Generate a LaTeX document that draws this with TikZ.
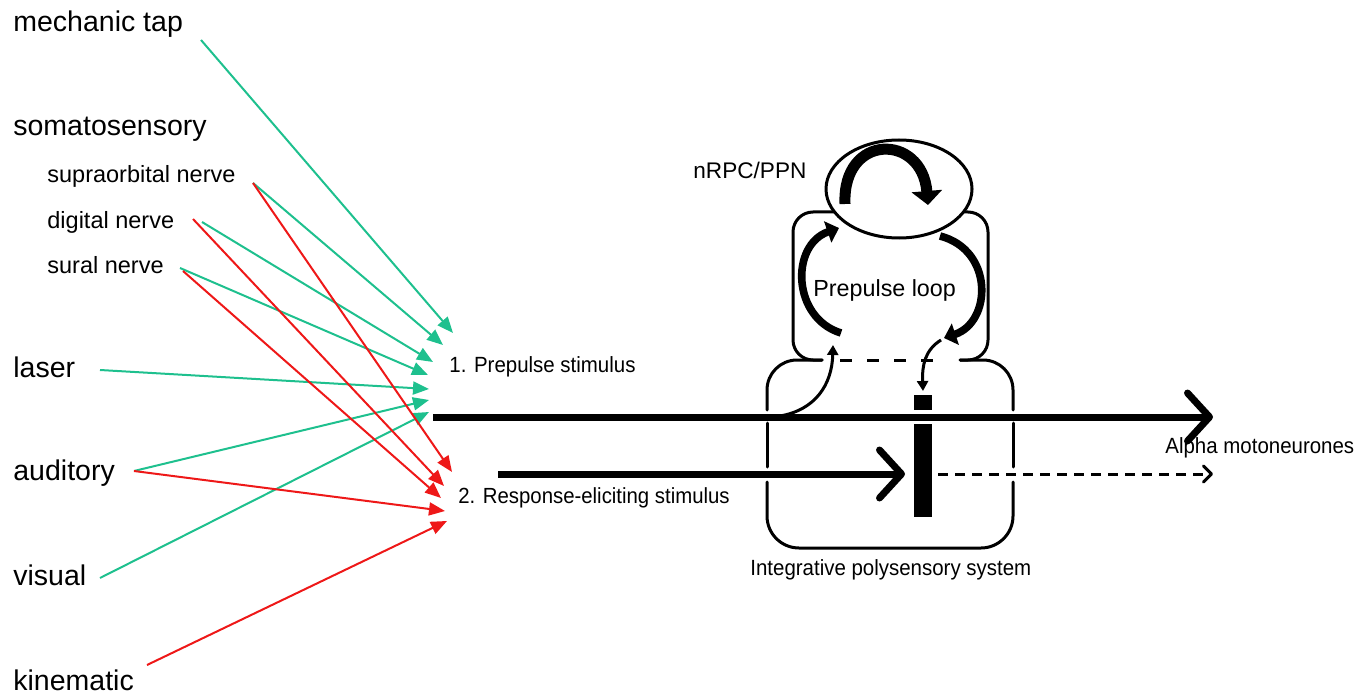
\documentclass[tikz,border=0pt]{standalone}
\usepackage{fontspec}
\setmainfont{Liberation Sans}
\newfontfamily\narrowsf[FakeStretch=0.93]{Liberation Sans}
\usetikzlibrary{arrows.meta,shapes.geometric}
\definecolor{sgreen}{RGB}{30,192,142}
\definecolor{sred}{RGB}{238,24,24}

\tikzset{
  lab/.style={anchor=base west, inner sep=0pt, font=\fontsize{14.25}{16}\selectfont},
  sublab/.style={anchor=base west, inner sep=0pt, font=\fontsize{11.75}{14}\selectfont},
  narrowlab/.style={anchor=base west, inner sep=0pt, font=\narrowsf\fontsize{11}{13}\selectfont},
  plainlab/.style={anchor=base west, inner sep=0pt, font=\fontsize{11.5}{13}\selectfont},
  gin/.style={draw=sgreen, line width=1pt, -{Triangle[length=8pt,width=6.5pt]}},
  rin/.style={draw=sred, line width=1pt, -{Triangle[length=8pt,width=6.5pt]}},
  trunk/.style={line width=3.5pt, -{Straight Barb[length=11pt,width=24pt,round]}},
  wall/.style={line width=1.5pt, line cap=round},
  loopbend/.style={line width=3.8pt, -{Triangle[length=6pt,width=11pt]}},
  thinbend/.style={line width=1.5pt, -{Triangle[length=5pt,width=5.5pt]}}
}

\begin{document}
\begin{tikzpicture}[x=0.5pt,y=-0.5pt]
\useasboundingbox (0,0) rectangle (1369,695);

% ---- stimulus sources ----
\node[lab] (mech) at (13,32) {mechanic tap};
\node[lab] (soma) at (13,136) {somatosensory};
\node[sublab] (supra) at (47,183) {supraorbital nerve};
\node[sublab] (digit) at (47,228) {digital nerve};
\node[sublab] (sural) at (47,273) {sural nerve};
\node[lab] (laser) at (13,377) {laser};
\node[lab] (audi) at (13,480) {auditory};
\node[lab] (visu) at (13,585) {visual};
\node[lab] (kine) at (13,690) {kinematic};

\coordinate (s-mech) at (201,40);
\coordinate (s-supra) at (253,183);
\coordinate (s-digG) at (202,222);
\coordinate (s-digR) at (193,219);
\coordinate (s-suralG) at (180,268);
\coordinate (s-suralR) at (183,271);
\coordinate (s-laser) at (100,370);
\coordinate (s-aud) at (134,471);
\coordinate (s-vis) at (100,578);
\coordinate (s-kin) at (147,665);

% ---- convergence points ----
\coordinate (g1) at (453,333);
\coordinate (g2) at (443,345);
\coordinate (g3) at (433,362);
\coordinate (g4) at (428,375);
\coordinate (g5) at (429,389);
\coordinate (g6) at (429,400);
\coordinate (g7) at (429,412);
\coordinate (q1) at (452,472);
\coordinate (q2) at (444,486);
\coordinate (q3) at (441,498);
\coordinate (q4) at (445,511);
\coordinate (q5) at (447,521);

% prepulse inputs
\draw[gin] (s-mech) -- (g1);
\draw[gin] (s-supra) -- (g2);
\draw[gin] (s-digG) -- (g3);
\draw[gin] (s-suralG) -- (g4);
\draw[gin] (s-laser) -- (g5);
\draw[gin] (s-aud) -- (g6);
\draw[gin] (s-vis) -- (g7);
% response-eliciting inputs
\draw[rin] (s-supra) -- (q1);
\draw[rin] (s-digR) -- (q2);
\draw[rin] (s-suralR) -- (q3);
\draw[rin] (s-aud) -- (q4);
\draw[rin] (s-kin) -- (q5);

\node[narrowlab] (pp) at (449,372) {1. Prepulse stimulus};
\node[anchor=base west, inner sep=0pt, font=\narrowsf\fontsize{10.95}{13}\selectfont] (re) at (458,503) {2. Response-eliciting stimulus};

% ---- integrative polysensory system (lower box, gaps where pathways cross) ----
\draw[wall, rounded corners=15pt] (822,360) -- (767,360) -- (767,410);
\draw[wall] (767,423) -- (767,467);
\draw[wall, rounded corners=16pt] (767,482) -- (767,548) -- (1013,548) -- (1013,482);
\draw[wall] (1013,467) -- (1013,423);
\draw[wall, rounded corners=15pt] (1013,410) -- (1013,360) -- (960,360);
\draw[wall, dash pattern=on 6pt off 7.5pt, line cap=butt] (840,360) -- (948,360);

% ---- prepulse loop (upper box) ----
\draw[wall, rounded corners=10pt] (840,212) -- (793,212) -- (793,360) -- (822,360);
\draw[wall, rounded corners=10pt] (958,212) -- (988,212) -- (988,360) -- (960,360);

\node[draw, line width=1.5pt, fill=white, ellipse, minimum width=73pt, minimum height=49pt, inner sep=0pt] (nrpc) at (899,189) {};
\draw[line width=5.5pt, -{Triangle[length=7pt,width=15pt]}] (845,204) .. controls (842,133) and (922,133) .. (928,205);

\draw[loopbend] (841,333) .. controls (792,318) and (790,245) .. (839,228);
\draw[loopbend] (940,236) .. controls (994,250) and (992,322) .. (944,338);

% ---- gating bar ----
\fill (914,395) rectangle (932,410);
\fill (914,424) rectangle (932,517);

% ---- pathways ----
\coordinate (m0) at (433,417);
\coordinate (m1) at (1213,417);
\coordinate (r0) at (498,474);
\coordinate (r1) at (905,474);
\coordinate (d0) at (938,474);
\coordinate (d1) at (1213,474);
\coordinate (b0) at (780,416);
\coordinate (b1) at (833,345);
\coordinate (c0) at (941,340);
\coordinate (c1) at (923,391);

\draw[trunk] (m0) -- (m1);
\draw[trunk] (r0) -- (r1);
\draw[line width=1.5pt, dash pattern=on 5pt off 3.5pt, -{Straight Barb[length=4pt,width=8pt,round]}] (d0) -- (d1);
\draw[thinbend] (b0) .. controls (815,410) and (832,385) .. (b1);
\draw[thinbend] (c0) .. controls (925,350) and (922,365) .. (c1);

% ---- labels ----
\node[plainlab, font=\fontsize{11.3}{13}\selectfont] (nlab) at (693,179) {nRPC/PPN};
\node[plainlab, font=\fontsize{11.65}{13}\selectfont] (loop) at (813,296) {Prepulse loop};
\node[narrowlab] (ips) at (750,575) {Integrative polysensory system};
\node[narrowlab] (alpha) at (1165,453) {Alpha motoneurones};
\end{tikzpicture}
\end{document}
